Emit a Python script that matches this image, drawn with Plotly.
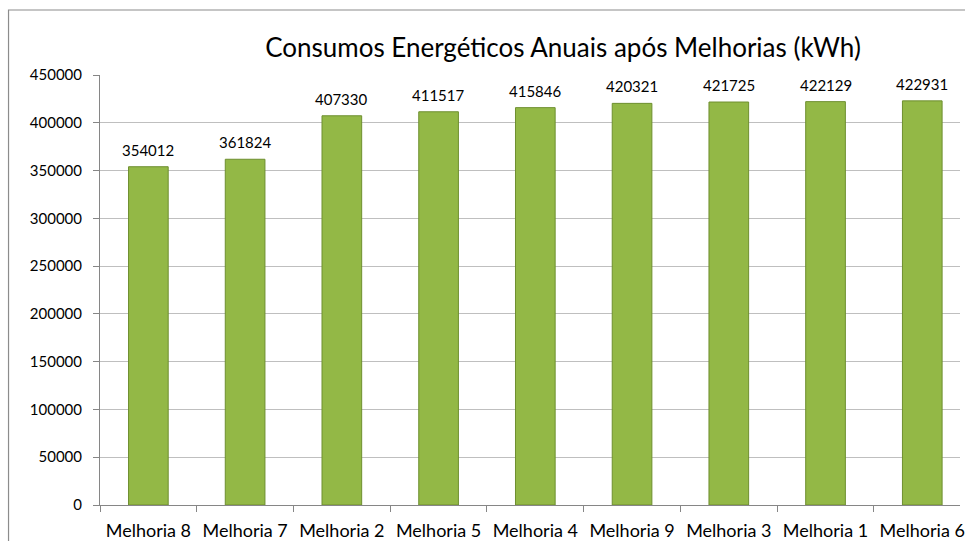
import plotly.graph_objects as go

categorias = ["Melhoria 8", "Melhoria 7", "Melhoria 2", "Melhoria 5", "Melhoria 4",
              "Melhoria 9", "Melhoria 3", "Melhoria 1", "Melhoria 6"]
consumos = [354012, 361824, 407330, 411517, 415846, 420321, 421725, 422129, 422931]
y_ticks = list(range(0, 450001, 50000))

FONT = "Lato"

fig = go.Figure(
    go.Bar(
        x=categorias,
        y=consumos,
        width=0.41,
        marker=dict(color="#93b846", line=dict(color="#6e8f2f", width=1)),
        cliponaxis=False,
    )
)

# Value labels above each column
for cat, val in zip(categorias, consumos):
    fig.add_annotation(
        x=cat, y=val, text=str(val),
        showarrow=False, yanchor="middle", yshift=17,
        font=dict(family=FONT, size=15, color="#000000"),
    )

fig.update_layout(
    width=965,
    height=541,
    margin=dict(l=100, r=0, t=75, b=36),
    paper_bgcolor="white",
    plot_bgcolor="white",
    showlegend=False,
    title=dict(
        text="Consumos Energéticos Anuais após Melhorias (kWh)",
        font=dict(family=FONT, size=26, color="#000000"),
        x=563 / 965,
        xanchor="center",
        y=1 - 48 / 541,
        yanchor="middle",
    ),
    font=dict(family=FONT, size=15, color="#000000"),
)

fig.update_xaxes(
    type="category",
    range=[-0.5, 8.39],
    showline=True,
    linecolor="#868686",
    linewidth=1,
    ticks="outside",
    tickson="boundaries",
    ticklen=6,
    tickcolor="#868686",
    tickfont=dict(family=FONT, size=18, color="#000000"),
    ticklabelstandoff=9,
    showgrid=False,
)

fig.update_yaxes(
    range=[0, 450000],
    tickvals=y_ticks,
    ticktext=[str(v) for v in y_ticks],
    showline=True,
    linecolor="#868686",
    linewidth=1,
    ticks="outside",
    ticklen=6,
    tickcolor="#868686",
    tickfont=dict(family=FONT, size=15, color="#000000"),
    ticklabelstandoff=8,
    showgrid=True,
    gridcolor="#bfbfbf",
    gridwidth=1,
    zeroline=False,
)

# Chart-area frame
fig.add_shape(
    type="rect",
    xref="paper", yref="paper",
    x0=(8 - 100) / 865, x1=1.05,
    y0=-0.2, y1=(505 - 10) / 430,
    line=dict(color="#8c8c8c", width=1.2),
    fillcolor="rgba(0,0,0,0)",
    layer="below",
)

fig.write_html("out.html")
